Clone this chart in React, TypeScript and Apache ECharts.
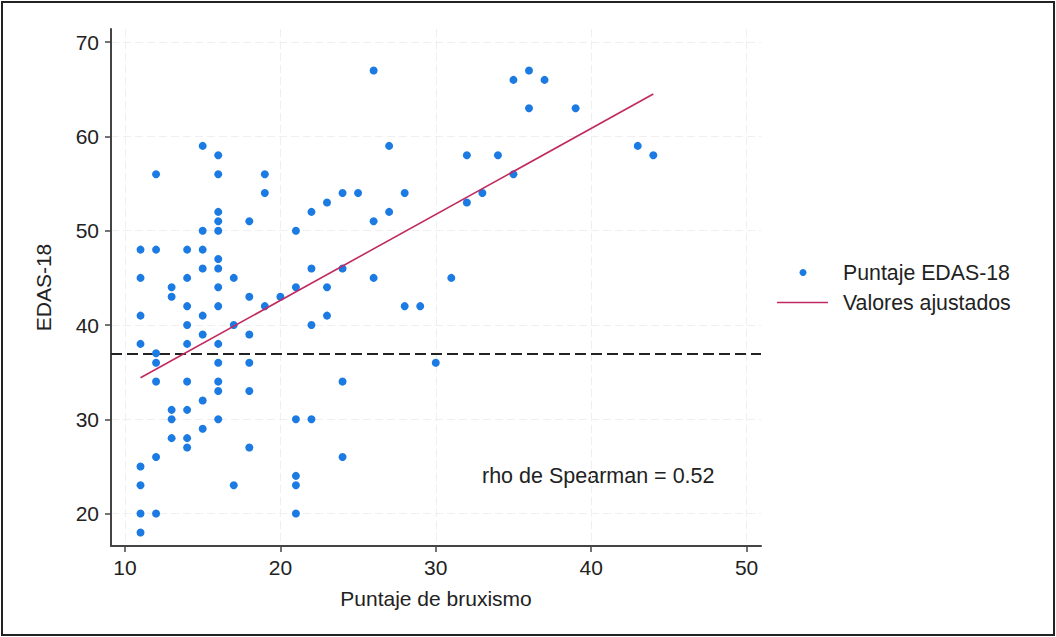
import React, { useEffect, useRef } from "react";
import * as echarts from "echarts";

// Puntaje de bruxismo (x) and Puntaje EDAS-18 (y)
const bruxismo = [
  11, 11, 11, 11, 11, 11, 11, 11,
  12, 12, 12, 12, 12, 12, 12,
  13, 13, 13, 13, 13,
  14, 14, 14, 14, 14, 14, 14, 14, 14,
  15, 15, 15, 15, 15, 15, 15, 15,
  16, 16, 16, 16, 16, 16, 16, 16, 16, 16, 16, 16, 16, 16,
  17, 17, 17,
  18, 18, 18, 18, 18, 18,
  19, 19, 19,
  20,
  21, 21, 21, 21, 21, 21,
  22, 22, 22, 22,
  23, 23, 23,
  24, 24, 24, 24,
  25,
  26, 26, 26,
  27, 27,
  28, 28,
  29,
  30,
  31,
  32, 32,
  33,
  34,
  35, 35,
  36, 36,
  37,
  39,
  43,
  44,
];
const edas18 = [
  48, 45, 41, 38, 25, 23, 20, 18,
  56, 48, 37, 36, 34, 26, 20,
  44, 43, 31, 30, 28,
  48, 45, 42, 40, 38, 34, 31, 28, 27,
  59, 50, 48, 46, 41, 39, 32, 29,
  58, 56, 52, 51, 50, 47, 46, 44, 42, 38, 36, 34, 33, 30,
  45, 40, 23,
  51, 43, 39, 36, 33, 27,
  56, 54, 42,
  43,
  50, 44, 30, 24, 23, 20,
  52, 46, 40, 30,
  53, 44, 41,
  54, 46, 34, 26,
  54,
  67, 51, 45,
  59, 52,
  54, 42,
  42,
  36,
  45,
  58, 53,
  54,
  58,
  66, 56,
  67, 63,
  66,
  63,
  59,
  58,
];

// Fitted values (valores ajustados)
const fitX = [11, 44];
const fitY = [34.4, 64.5];

// Horizontal reference line
const referenceValue = 37;

const xTicks = [10, 20, 30, 40, 50];
const yTicks = [20, 30, 40, 50, 60, 70];

const seriesNames = ["Puntaje EDAS-18", "Valores ajustados"];
const xTitle = "Puntaje de bruxismo";
const yTitle = "EDAS-18";
const annotation = "rho de Spearman = 0.52";

const FONT = "'Liberation Sans', Arial, Helvetica, sans-serif";
const DOT = "#1c7be3";
const FIT = "#c02a60";
const TEXT = "#222";

export default function App() {
  const ref = useRef<HTMLDivElement>(null);

  useEffect(() => {
    if (!ref.current) return;
    const chart = echarts.init(ref.current, null, { renderer: "svg" });

    const points = bruxismo.map((x, i) => [x, edas18[i]]);
    const fit = fitX.map((x, i) => [x, fitY[i]]);

    chart.setOption({
      animation: false,
      backgroundColor: "#fff",
      textStyle: { fontFamily: FONT },
      grid: { left: 111, right: 295, top: 29, bottom: 91, containLabel: false },
      xAxis: {
        type: "value",
        min: 9.1,
        max: 50.93,
        name: xTitle,
        nameLocation: "middle",
        nameGap: 42,
        nameTextStyle: { fontSize: 21, color: TEXT, fontFamily: FONT },
        axisLine: { show: true, onZero: false, lineStyle: { color: "#444", width: 2 } },
        axisTick: { show: true, customValues: xTicks, length: 6, lineStyle: { color: "#444", width: 1.5 } },
        axisLabel: { customValues: xTicks, fontSize: 21, color: TEXT, margin: 11, fontFamily: FONT },
        splitLine: { show: true, lineStyle: { color: "#efefef", width: 1, type: [8, 4] } },
      },
      yAxis: {
        type: "value",
        min: 16.56,
        max: 71.4,
        name: yTitle,
        nameLocation: "middle",
        nameRotate: 90,
        nameGap: 57,
        nameTextStyle: { fontSize: 21, color: TEXT, fontFamily: FONT },
        axisLine: { show: true, onZero: false, lineStyle: { color: "#444", width: 2 } },
        axisTick: { show: true, customValues: yTicks, length: 6, lineStyle: { color: "#444", width: 1.5 } },
        axisLabel: { customValues: yTicks, fontSize: 21, color: TEXT, margin: 12, fontFamily: FONT },
        splitLine: { show: true, lineStyle: { color: "#efefef", width: 1, type: [8, 4] } },
      },
      series: [
        {
          name: seriesNames[0],
          type: "scatter",
          data: points,
          symbol: "circle",
          symbolSize: 8,
          itemStyle: { color: DOT, opacity: 1 },
          z: 3,
          markLine: {
            silent: true,
            symbol: "none",
            label: { show: false },
            lineStyle: { color: "#222", width: 2, type: [11, 5] },
            data: [{ yAxis: referenceValue }],
            z: 2,
          },
        },
        {
          name: seriesNames[1],
          type: "line",
          data: fit,
          showSymbol: false,
          symbol: "none",
          lineStyle: { color: FIT, width: 1.6 },
          itemStyle: { color: FIT },
          z: 4,
        },
      ],
      graphic: [
        {
          type: "rect",
          shape: { x: 2, y: 2, width: 1052, height: 633 },
          style: { fill: "none", stroke: "#222", lineWidth: 2 },
          silent: true,
          z: 10,
        },
        {
          type: "circle",
          shape: { cx: 803, cy: 272.5, r: 3.5 },
          style: { fill: DOT },
        },
        {
          type: "text",
          x: 843,
          y: 272.5,
          style: { text: seriesNames[0], font: `21.3px ${FONT}`, fill: TEXT, verticalAlign: "middle", align: "left" },
        },
        {
          type: "line",
          shape: { x1: 777, y1: 302.5, x2: 828, y2: 302.5 },
          style: { stroke: FIT, lineWidth: 1.6 },
        },
        {
          type: "text",
          x: 843,
          y: 302.5,
          style: { text: seriesNames[1], font: `21.3px ${FONT}`, fill: TEXT, verticalAlign: "middle", align: "left" },
        },
        {
          type: "text",
          x: 482,
          y: 476,
          style: { text: annotation, font: `21.5px ${FONT}`, fill: TEXT, verticalAlign: "middle", align: "left" },
        },
      ],
    });

    return () => chart.dispose();
  }, []);

  return (
    <div
      ref={ref}
      style={{ position: "absolute", left: 0, top: 0, width: 1056, height: 637, background: "#fff" }}
    />
  );
}
